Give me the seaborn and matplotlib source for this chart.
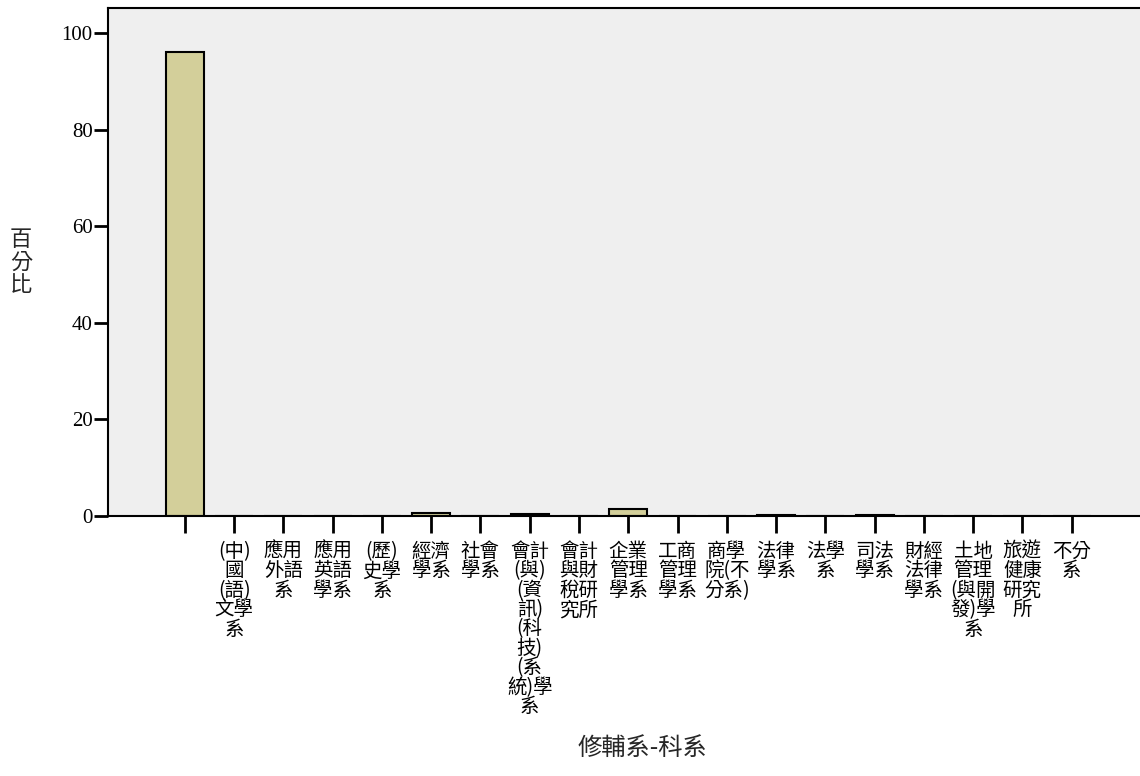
import matplotlib
matplotlib.use("Agg")
import matplotlib.pyplot as plt
import seaborn as sns
import pandas as pd

categories = [
    " ",
    "(中)\n國\n(語)\n文學\n系",
    "應用\n外語\n系",
    "應用\n英語\n學系",
    "(歷)\n史學\n系",
    "經濟\n學系",
    "社會\n學系",
    "會計\n(與)\n(資\n訊)\n(科\n技)\n(系\n統)學\n系",
    "會計\n與財\n稅研\n究所",
    "企業\n管理\n學系",
    "工商\n管理\n學系",
    "商學\n院(不\n分系)",
    "法律\n學系",
    "法學\n系",
    "司法\n學系",
    "財經\n法律\n學系",
    "土地\n管理\n(與開\n發)學\n系",
    "旅遊\n健康\n研究\n所",
    "不分\n系",
]
percent = [96.0, 0.1, 0.1, 0.1, 0.1, 0.7, 0.1, 0.5, 0.1, 1.5,
           0.1, 0.1, 0.2, 0.1, 0.2, 0.1, 0.1, 0.1, 0.1]
yticks = [0, 20, 40, 60, 80, 100]

sns.set_style("white")
plt.rcParams["font.family"] = ["Noto Sans CJK TC", "DejaVu Sans"]

df = pd.DataFrame({"科系": categories, "百分比": percent})

fig = plt.figure(figsize=(11.4, 7.76), dpi=100)
ax = fig.add_axes([108 / 1140, 1 - 516 / 776, 1040 / 1140, (516 - 8) / 776])
ax.set_facecolor("#EFEFEF")

sns.barplot(data=df, x="科系", y="百分比", order=categories, color="#D3CF9A",
            saturation=1, edgecolor="black", linewidth=1.5, width=0.77, ax=ax)

ax.set_xlim(-1.56, len(categories) - 1 + 1.55)
ax.set_ylim(0, 105.2)
ax.set_yticks(yticks)
ax.set_yticklabels([str(v) for v in yticks], family=["Liberation Serif"], fontsize=15)
ax.set_xticks(range(len(categories)))
ax.set_xticklabels(categories, fontsize=14, linespacing=0.9, va="top", ha="center")

ax.tick_params(axis="x", bottom=True, direction="out", length=12, width=2,
               colors="black", pad=6)
ax.tick_params(axis="y", left=True, direction="out", length=10, width=2,
               colors="black", pad=1)
for sp in ax.spines.values():
    sp.set_visible(True)
    sp.set_color("black")
    sp.set_linewidth(1.5)

ax.set_xlabel("修輔系-科系", fontsize=17.5)
ax.set_ylabel("")
ax.xaxis.set_label_coords((642 - 108) / 1040, -(748 - 516) / 508)
ax.xaxis.label.set_va("center")
fig.text(21 / 1140, 1 - 262 / 776, "百\n分\n比", fontsize=16, ha="center", va="center",
         linespacing=0.95)

fig.savefig("out.png", dpi=100)
